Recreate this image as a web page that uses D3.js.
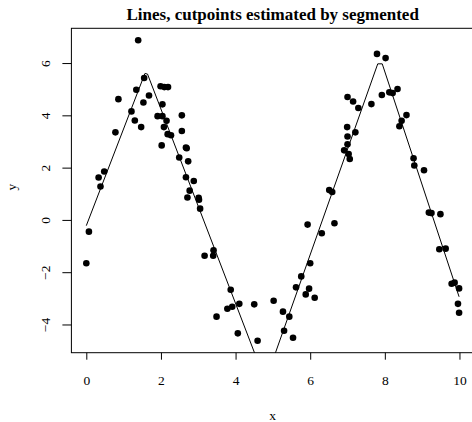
<!DOCTYPE html>
<html>
<head>
<meta charset="utf-8">
<script src="https://cdn.jsdelivr.net/npm/d3@7"></script>
<style>
    body { margin: 0; background: white; }
    text { font-family: "Liberation Serif", "DejaVu Serif", serif; }
</style>
</head>
<body>
<div id="canvas"></div>
<script>
"use strict"

/* Configuration variables: drawing */
let svgWidth = 472;
let svgHeight = 422;
let plotLeft = 71.4;
let plotRight = 474;   // R box runs just past the right edge of the image
let plotTop = 28.3;
let plotBottom = 352.7;

let xValues = [
    0.00, 0.07, 0.33, 0.38, 0.48, 0.78, 0.86, 1.21, 1.30, 1.34,
    1.39, 1.47, 1.53, 1.55, 1.68, 1.91, 1.99, 2.02, 2.04, 2.04,
    2.08, 2.09, 2.15, 2.18, 2.19, 2.27, 2.49, 2.56, 2.56, 2.67,
    2.69, 2.73, 2.67, 2.88, 2.77, 2.71, 3.01, 3.02, 3.05, 3.17,
    3.40, 3.41, 3.49, 3.78, 3.87, 3.91, 4.06, 4.10, 4.50, 4.59,
    5.02, 5.27, 5.30, 5.44, 5.54, 5.62, 5.76, 5.88, 5.93, 5.97,
    6.00, 6.12, 6.31, 6.51, 6.59, 6.65, 6.91, 6.99, 7.00, 7.00,
    7.00, 7.03, 7.06, 7.15, 7.21, 7.29, 7.64, 7.79, 7.92, 8.02,
    8.12, 8.21, 8.34, 8.39, 8.45, 8.58, 8.77, 8.79, 9.05, 9.18,
    9.25, 9.49, 9.46, 9.63, 9.79, 9.87, 9.99, 9.96, 9.99
];
let yValues = [
    -1.66, -0.45, 1.62, 1.28, 1.85, 3.35, 4.62, 4.15, 3.80, 4.98,
    6.87, 3.55, 4.49, 5.43, 4.76, 3.97, 5.11, 2.85, 3.97, 4.42,
    3.55, 5.08, 3.79, 3.28, 5.08, 3.24, 2.39, 4.00, 3.40, 2.77,
    2.74, 2.24, 1.63, 1.49, 1.12, 0.86, 0.85, 0.77, 0.43, -1.37,
    -1.37, -1.16, -3.70, -3.40, -2.67, -3.32, -4.34, -3.21, -3.23, -4.62,
    -3.09, -3.51, -4.24, -3.70, -4.51, -2.58, -2.16, -2.85, -0.18, -2.63,
    -1.66, -2.98, -0.51, 1.14, 1.07, -0.13, 2.66, 3.55, 3.19, 2.89,
    4.70, 2.52, 2.33, 4.53, 3.35, 4.28, 4.43, 6.35, 4.78, 6.19,
    4.88, 4.85, 5.01, 3.58, 3.79, 4.01, 2.36, 2.08, 1.90, 0.28,
    0.26, 0.22, -1.12, -1.10, -2.44, -2.40, -2.62, -3.21, -3.55
];

/* Segmented fit: vertices of the fitted broken line */
let fitX = [0.00, 1.57, 1.64, 4.59, 5.02, 7.81, 7.93, 9.99];
let fitY = [-0.22, 5.60, 5.58, -5.39, -5.28, 5.97, 5.97, -2.94];

let xTicks = [0, 2, 4, 6, 8, 10];
let yTicks = [-4, -2, 0, 2, 4, 6];

let points = xValues.map(function (x, i) {
    return { x: x, y: yValues[i] };
});
let fit = fitX.map(function (x, i) {
    return { x: x, y: fitY[i] };
});

/* Create drawing canvas */
let svg = d3.select("#canvas")
    .append("svg")
    .attr("width", svgWidth)
    .attr("height", svgHeight);

svg.append("rect")
    .attr("width", svgWidth)
    .attr("height", svgHeight)
    .attr("fill", "white");

/* R style axis limits: data range stretched by 4% each side */
let xExt = d3.extent(xValues);
let yExt = d3.extent(yValues);
let xPad = (xExt[1] - xExt[0]) * 0.04;
let yPad = (yExt[1] - yExt[0]) * 0.04;

let xScale = d3.scaleLinear()
    .domain([xExt[0] - xPad, xExt[1] + xPad])
    .range([plotLeft, plotRight]);

let yScale = d3.scaleLinear()
    .domain([yExt[0] - yPad, yExt[1] + yPad])
    .range([plotBottom, plotTop]);

/* clip for the fitted line */
svg.append("clipPath")
    .attr("id", "plotClip")
    .append("rect")
    .attr("x", plotLeft)
    .attr("y", plotTop)
    .attr("width", plotRight - plotLeft)
    .attr("height", plotBottom - plotTop);

/* Fitted line */
let line = d3.line()
    .x(function (d) { return xScale(d.x); })
    .y(function (d) { return yScale(d.y); });

svg.append("path")
    .datum(fit)
    .attr("clip-path", "url(#plotClip)")
    .attr("fill", "none")
    .attr("stroke", "black")
    .attr("stroke-width", 1)
    .attr("d", line);

/* Points */
svg.selectAll("circle")
    .data(points)
    .join("circle")
    .attr("cx", function (d) { return xScale(d.x); })
    .attr("cy", function (d) { return yScale(d.y); })
    .attr("r", 3.3)
    .attr("fill", "black");

/* Box around plot */
svg.append("rect")
    .attr("x", plotLeft)
    .attr("y", plotTop)
    .attr("width", plotRight - plotLeft)
    .attr("height", plotBottom - plotTop)
    .attr("fill", "none")
    .attr("stroke", "black")
    .attr("stroke-width", 1);

/**** axes ****/
let xAxis = svg.append("g")
    .attr("transform", "translate(0," + plotBottom + ")")
    .call(d3.axisBottom(xScale).tickValues(xTicks).tickSize(7).tickFormat(d3.format("d")));

xAxis.select(".domain").remove();
xAxis.selectAll("text")
    .attr("y", 32.3)
    .attr("dy", 0)
    .style("font-size", "13.5px")
    .style("font-family", "'Liberation Serif', serif");

let yAxis = svg.append("g")
    .attr("transform", "translate(" + plotLeft + ",0)")
    .call(d3.axisLeft(yScale).tickValues(yTicks).tickSize(9).tickFormat(d3.format("d")));

yAxis.select(".domain").remove();
yAxis.selectAll("text")
    .attr("x", 0)
    .attr("dy", 0)
    .attr("text-anchor", "middle")
    .attr("transform", "translate(-21.4,0) rotate(-90)")
    .style("font-size", "13.5px")
    .style("font-family", "'Liberation Serif', serif");

/**** labels ****/
svg.append("text")
    .attr("x", 272.7)
    .attr("y", 20)
    .attr("text-anchor", "middle")
    .style("font-size", "17px")
    .style("font-weight", "bold")
    .text("Lines, cutpoints estimated by segmented");

svg.append("text")
    .attr("x", 272.7)
    .attr("y", 419.5)
    .attr("text-anchor", "middle")
    .style("font-size", "13.5px")
    .text("x");

svg.append("text")
    .attr("transform", "translate(16,187) rotate(-90)")
    .attr("text-anchor", "middle")
    .style("font-size", "13.5px")
    .text("y");
</script>
</body>
</html>
